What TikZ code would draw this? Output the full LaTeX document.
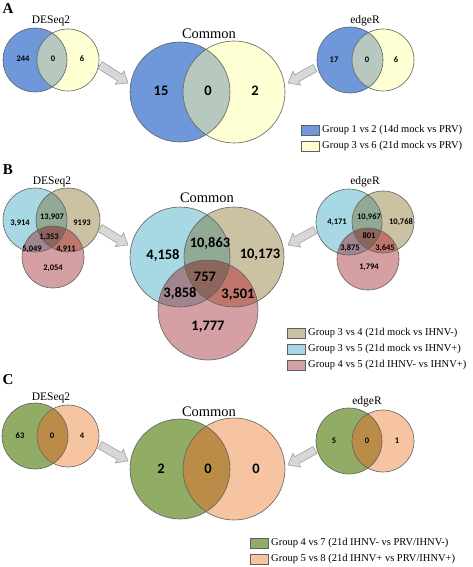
\documentclass[tikz,border=0pt]{standalone}
\usepackage{fontspec}
\setmainfont{Liberation Serif}
\newfontfamily\carlito{Carlito}
\usetikzlibrary{calc}
\definecolor{blueA}{RGB}{110,152,218}
\definecolor{yellowA}{RGB}{255,255,212}
\definecolor{byA}{RGB}{183,200,190}
\definecolor{cyanB}{RGB}{168,216,228}
\definecolor{tanB}{RGB}{203,193,163}
\definecolor{pinkB}{RGB}{213,160,163}
\definecolor{ctB}{RGB}{145,170,150}
\definecolor{cpB}{RGB}{160,132,142}
\definecolor{tpB}{RGB}{192,118,108}
\definecolor{ctpB}{RGB}{140,102,92}
\definecolor{greenC}{RGB}{145,172,100}
\definecolor{orangeC}{RGB}{246,196,160}
\definecolor{goC}{RGB}{186,140,72}
\definecolor{vline}{RGB}{95,95,95}
\definecolor{arrfill}{RGB}{215,215,215}
\definecolor{arrdraw}{RGB}{150,150,150}
\tikzset{
  ttl/.style={font=\fontsize{11.5}{12}\selectfont, inner sep=0pt},
  cttl/.style={font=\fontsize{14.5}{15}\selectfont, inner sep=0pt},
  snum/.style={font=\carlito\bfseries\fontsize{8.5}{9}\selectfont, inner sep=0pt},
  bnum/.style={font=\carlito\bfseries\fontsize{14.5}{15}\selectfont, inner sep=0pt},
  legtext/.style={font=\fontsize{10.5}{11}\selectfont, anchor=west, inner sep=0pt},
  panel/.style={font=\bfseries\fontsize{15}{15}\selectfont, inner sep=0pt},
  outl/.style={draw=vline, line width=0.6pt},
  legbox/.style={draw=vline, line width=0.5pt, minimum width=18pt, minimum height=10pt, inner sep=0pt},
  arrowst/.style={fill=arrfill, draw=arrdraw, line width=0.5pt},
}
% two-circle venn: #1 cx1, #2 cy, #3 r1, #4 cx2, #5 r2, #6 colA, #7 colB, #8 colAB
\newcommand{\vennTwo}[8]{%
  \fill[#6] (#1,#2) circle[radius=#3pt];
  \fill[#7] (#4,#2) circle[radius=#5pt];
  \begin{scope}
    \clip (#1,#2) circle[radius=#3pt];
    \fill[#8] (#4,#2) circle[radius=#5pt];
  \end{scope}
  \draw[outl] (#1,#2) circle[radius=#3pt];
  \draw[outl] (#4,#2) circle[radius=#5pt];
}
% three-circle venn: centers (#1),(#2),(#3) radii #4 #5 #6
\newcommand{\vennThree}[6]{%
  \fill[cyanB] #1 circle[radius=#4pt];
  \fill[tanB] #2 circle[radius=#5pt];
  \fill[pinkB] #3 circle[radius=#6pt];
  \begin{scope}\clip #1 circle[radius=#4pt]; \fill[ctB] #2 circle[radius=#5pt]; \end{scope}
  \begin{scope}\clip #1 circle[radius=#4pt]; \fill[cpB] #3 circle[radius=#6pt]; \end{scope}
  \begin{scope}\clip #2 circle[radius=#5pt]; \fill[tpB] #3 circle[radius=#6pt]; \end{scope}
  \begin{scope}\clip #1 circle[radius=#4pt]; \clip #2 circle[radius=#5pt]; \fill[ctpB] #3 circle[radius=#6pt]; \end{scope}
  \draw[outl] #1 circle[radius=#4pt];
  \draw[outl] #2 circle[radius=#5pt];
  \draw[outl] #3 circle[radius=#6pt];
}
\newcommand{\blockarrow}[2]{%
  \draw[arrowst] let \p1=($(#2)-(#1)$), \n1={atan2(\y1,\x1)}, \n2={veclen(\x1,\y1)} in
    [shift={(#1)}, rotate=\n1] (0,-4) -- ({\n2-10},-4) -- ({\n2-10},-8) -- (\n2,0)
    -- ({\n2-10},8) -- ({\n2-10},4) -- (0,4) -- cycle;%
}
\begin{document}
\begin{tikzpicture}[x=1pt,y=-1pt]
\useasboundingbox (0,0) rectangle (472,567);
\fill[white] (0,0) rectangle (472,567);

% ================= Panel A =================
\node[panel] (pA) at (8,9) {A};
\node[ttl] (tA1) at (51,21) {DESeq2};
\vennTwo{35}{60}{32}{68}{31}{blueA}{yellowA}{byA}
\node[snum] (a1) at (23,59) {244};
\node[snum] (a2) at (53,59) {0};
\node[snum] (a3) at (82,59) {6};

\node[cttl] (tA2) at (209,34) {Common};
\vennTwo{180}{92}{50}{234}{51}{blueA}{yellowA}{byA}
\node[bnum] (a4) at (161,91) {15};
\node[bnum] (a5) at (208,91) {0};
\node[bnum] (a6) at (255,91) {2};

\node[ttl] (tA3) at (365,21) {edgeR};
\vennTwo{350}{60}{33}{383}{31}{blueA}{yellowA}{byA}
\node[snum] (a7) at (334,60) {17};
\node[snum] (a8) at (367,60) {0};
\node[snum] (a9) at (396,60) {6};

\coordinate (arA1s) at (100,65); \coordinate (arA1e) at (128,83);
\coordinate (arA2s) at (315,68); \coordinate (arA2e) at (288,83);
\blockarrow{arA1s}{arA1e}
\blockarrow{arA2s}{arA2e}

\node[legbox, fill=blueA] (lA1) at (310,130) {};
\node[legtext] (lA1t) at (322,130) {Group 1 vs 2 (14d mock vs PRV)};
\node[legbox, fill=yellowA] (lA2) at (310,146) {};
\node[legtext] (lA2t) at (322,146) {Group 3 vs 6 (21d mock vs PRV)};

% ================= Panel B =================
\node[panel] (pB) at (8,170) {B};
\node[ttl] (tB1) at (52,182) {DESeq2};
\vennThree{(35,220)}{(68,220)}{(53,257)}{32}{32}{31}
\node[snum] (b1) at (20,223) {3,914};
\node[snum] (b2) at (52,217) {13,907};
\node[snum] (b3) at (82,223) {9193};
\node[snum] (b4) at (49,237) {1,353};
\node[snum] (b5) at (32,249) {5,049};
\node[snum] (b6) at (66,249) {4,911};
\node[snum] (b7) at (53,268) {2,054};

\node[cttl] (tB2) at (207,198) {Common};
\vennThree{(180,257)}{(234,257)}{(208,310)}{50}{50}{50}
\node[bnum] (b8) at (163,255) {4,158};
\node[bnum] (b9) at (210,243) {10,863};
\node[bnum] (b10) at (260,255) {10,173};
\node[bnum] (b11) at (205,277) {757};
\node[bnum] (b12) at (180,293) {3,858};
\node[bnum] (b13) at (238,295) {3,501};
\node[bnum] (b14) at (208,327) {1,777};

\node[ttl] (tB3) at (365,182) {edgeR};
\vennThree{(349,222)}{(383,222)}{(368,259)}{33}{31}{31}
\node[snum] (b15) at (337,222) {4,171};
\node[snum] (b16) at (369,217) {10,967};
\node[snum] (b17) at (401,222) {10,768};
\node[snum] (b18) at (369,236) {801};
\node[snum] (b19) at (350,248) {3,875};
\node[snum] (b20) at (385,248) {3,645};
\node[snum] (b21) at (369,267) {1,794};

\coordinate (arB1s) at (100,228); \coordinate (arB1e) at (128,245);
\coordinate (arB2s) at (315,230); \coordinate (arB2e) at (288,245);
\blockarrow{arB1s}{arB1e}
\blockarrow{arB2s}{arB2e}

\node[legbox, fill=tanB] (lB1) at (296,333) {};
\node[legtext] (lB1t) at (308,333) {Group 3 vs 4 (21d mock vs IHNV-)};
\node[legbox, fill=cyanB] (lB2) at (296,349) {};
\node[legtext] (lB2t) at (308,349) {Group 3 vs 5 (21d mock vs IHNV+)};
\node[legbox, fill=pinkB] (lB3) at (296,365) {};
\node[legtext] (lB3t) at (308,365) {Group 4 vs 5 (21d IHNV- vs IHNV+)};

% ================= Panel C =================
\node[panel] (pC) at (8,380) {C};
\node[ttl] (tC1) at (51,398) {DESeq2};
\vennTwo{35}{436}{33}{68}{31}{greenC}{orangeC}{goC}
\node[snum] (c1) at (20,436) {63};
\node[snum] (c2) at (52,436) {0};
\node[snum] (c3) at (82,436) {4};

\node[cttl] (tC2) at (209,412) {Common};
\vennTwo{180}{469}{50}{234}{51}{greenC}{orangeC}{goC}
\node[bnum] (c4) at (161,469) {2};
\node[bnum] (c5) at (208,469) {0};
\node[bnum] (c6) at (256,469) {0};

\node[ttl] (tC3) at (367,402) {edgeR};
\vennTwo{349}{441}{33}{383}{31}{greenC}{orangeC}{goC}
\node[snum] (c7) at (334,441) {5};
\node[snum] (c8) at (367,441) {0};
\node[snum] (c9) at (397,441) {1};

\coordinate (arC1s) at (100,445); \coordinate (arC1e) at (128,461);
\coordinate (arC2s) at (315,450); \coordinate (arC2e) at (288,465);
\blockarrow{arC1s}{arC1e}
\blockarrow{arC2s}{arC2e}

\node[legbox, fill=greenC] (lC1) at (259,543) {};
\node[legtext] (lC1t) at (271,543) {Group 4 vs 7 (21d IHNV- vs PRV/IHNV-)};
\node[legbox, fill=orangeC] (lC2) at (259,559) {};
\node[legtext] (lC2t) at (271,559) {Group 5 vs 8 (21d IHNV+ vs PRV/IHNV+)};
\end{tikzpicture}
\end{document}
